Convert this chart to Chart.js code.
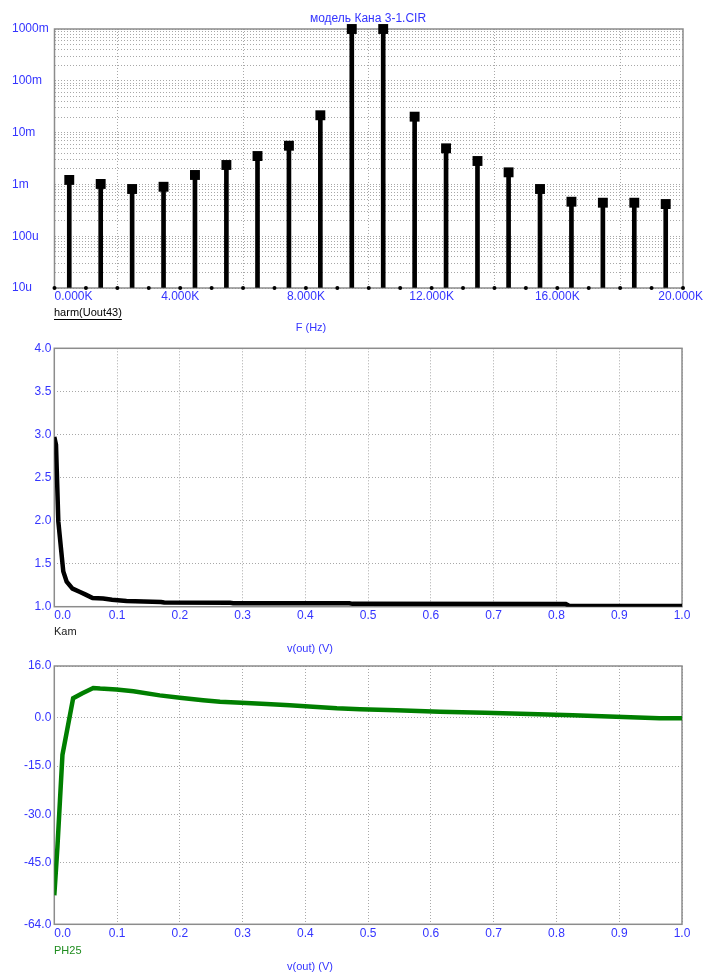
<!DOCTYPE html>
<html>
<head>
<meta charset="utf-8">
<script src="https://cdn.jsdelivr.net/npm/chart.js@4.4.1/dist/chart.umd.min.js"></script>
<style>
  body { margin: 0; background: #fff; }
  canvas { position: absolute; left: 0; }
</style>
</head>
<body>
<canvas id="harm" width="703" height="335" style="top:0px"></canvas>
<canvas id="kam" width="703" height="320" style="top:335px"></canvas>
<canvas id="ph" width="703" height="318" style="top:655px"></canvas>
<script>
// harmonic spectrum, harm(Uout43)
const harmFreqs = [470, 1470, 2470, 3470, 4470, 5470, 6460, 7460, 8460, 9460,
                   10460, 11460, 12460, 13460, 14450, 15450, 16450, 17450, 18450, 19450];
const harmAmps = [1.22e-3, 1.02e-3, 0.815e-3, 0.90e-3, 1.52e-3, 2.37e-3, 3.53e-3, 5.58e-3, 21.6e-3, 1.0,
                  1.0, 20.3e-3, 4.97e-3, 2.83e-3, 1.71e-3, 0.815e-3, 0.463e-3, 0.443e-3, 0.443e-3, 0.418e-3];
const binFreqs = [0, 1000, 2000, 3000, 4000, 5000, 6000, 7000, 8000, 9000, 10000,
                  11000, 12000, 13000, 14000, 15000, 16000, 17000, 18000, 19000, 20000];
const decadeLabels = ['10u', '100u', '1m', '10m', '100m', '1000m'];

// Kam vs v(out)
const kamV = [0, 0.0027, 0.0064, 0.0106, 0.0143, 0.0197, 0.029, 0.041, 0.050, 0.061, 0.078, 0.092,
              0.115, 0.17, 0.175, 0.28, 0.285, 0.47, 0.475, 0.815, 0.82, 1.0];
const kamY = [2.97, 2.88, 1.99, 1.68, 1.41, 1.29, 1.21, 1.17, 1.14, 1.10, 1.095, 1.08,
              1.065, 1.055, 1.048, 1.046, 1.04, 1.04, 1.033, 1.03, 1.012, 1.008];

// PH25 vs v(out)
const phV = [0, 0.005, 0.009, 0.013, 0.030, 0.044, 0.062, 0.073, 0.099, 0.126, 0.168, 0.2, 0.237, 0.264,
             0.298, 0.338, 0.375, 0.412, 0.45, 0.487, 0.545, 0.614, 0.686, 0.757, 0.826, 0.895, 0.964, 1.0];
const phY = [-55, -40, -25.7, -11.5, 6.0, 7.5, 9.2, 9.0, 8.7, 8.2, 6.9, 6.2, 5.4, 4.9,
             4.65, 4.24, 3.83, 3.41, 2.9, 2.6, 2.28, 1.86, 1.55, 1.15, 0.74, 0.31, -0.2, -0.2];
const phTicks = [16, 0, -15, -30, -45, -64];

const BLUE = '#3434ff';
const GREEN = '#007f00';
const FONT = "'Liberation Sans', Arial, sans-serif";

Chart.defaults.font.family = FONT;
Chart.defaults.font.size = 12;
Chart.defaults.color = BLUE;

const grid = () => ({ color: '#a8a8a8', lineWidth: 1, drawTicks: false });
const border = () => ({ display: false, dash: [1, 2] });

function frame() {
  return {
    id: 'frame',
    beforeDatasetsDraw(c) {
      const a = c.chartArea, ctx = c.ctx;
      ctx.save();
      ctx.strokeStyle = '#8c8c8c';
      ctx.lineWidth = 1.5;
      ctx.strokeRect(a.left, a.top, a.right - a.left, a.bottom - a.top);
      ctx.restore();
    }
  };
}

// x tick labels: first one starts at the axis, the others are centred
function xLabels(fmt) {
  return {
    id: 'xLabels',
    afterDraw(c) {
      const s = c.scales.x, ctx = c.ctx, y = c.chartArea.bottom + 9;
      ctx.save();
      ctx.font = '12px ' + FONT;
      ctx.fillStyle = BLUE;
      ctx.textBaseline = 'middle';
      ctx.textAlign = 'left';
      s.ticks.forEach((t, i) => {
        const txt = fmt(t.value);
        const px = s.getPixelForValue(t.value);
        const w = ctx.measureText(txt).width;
        let x = i === 0 ? px : px - w / 2;
        if (x + w > c.width) x = c.width - w;
        ctx.fillText(txt, x, y);
      });
      ctx.restore();
    }
  };
}

function notes(items) {
  return {
    id: 'notes',
    afterDraw(c) {
      const ctx = c.ctx;
      ctx.save();
      ctx.textBaseline = 'middle';
      items.forEach(n => {
        ctx.font = (n.size || 11) + 'px ' + FONT;
        ctx.fillStyle = n.color;
        ctx.textAlign = n.align || 'left';
        ctx.fillText(n.text, n.x, n.y);
        if (n.underline) {
          const w = ctx.measureText(n.text).width;
          ctx.fillRect(n.x, n.y + 6, w, 1);
        }
      });
      ctx.restore();
    }
  };
}

const base = {
  responsive: false,
  animation: false,
  events: [],
  plugins: { legend: { display: false }, tooltip: { enabled: false } }
};

// --- top: spectrum ---
const harmPts = harmFreqs.map((f, i) => ({ x: f, y: harmAmps[i] }));
new Chart(document.getElementById('harm'), {
  type: 'scatter',
  data: {
    datasets: [
      { type: 'bar', data: harmPts, backgroundColor: '#000', barThickness: 4, base: 1e-5 },
      { data: harmPts, pointStyle: 'rect', pointRadius: 7, backgroundColor: '#000', borderWidth: 0, clip: false },
      { data: binFreqs.map(f => ({ x: f, y: 1e-5 })), pointRadius: 2, backgroundColor: '#000', borderWidth: 0, clip: false }
    ]
  },
  options: {
    ...base,
    layout: { padding: { left: 12, right: 20, top: 29, bottom: 0 } },
    scales: {
      x: {
        type: 'linear', min: 0, max: 20000, offset: false,
        ticks: { display: false, stepSize: 4000 },
        grid: grid(), border: border(),
        afterFit(s) { s.height = 47; }
      },
      y: {
        type: 'logarithmic', min: 1e-5, max: 1,
        grid: grid(), border: border(),
        afterBuildTicks(s) {
          const t = [];
          for (let e = -5; e < 0; e++) {
            for (let m = 1; m < 10; m++) t.push({ value: m * Math.pow(10, e) });
          }
          t.push({ value: 1 });
          s.ticks = t;
        },
        ticks: {
          autoSkip: false, crossAlign: 'far', padding: 0,
          callback(v) {
            const e = Math.log10(v);
            return Math.abs(e - Math.round(e)) < 1e-6 ? decadeLabels[Math.round(e) + 5] : '';
          }
        },
        afterFit(s) { s.width = 42.5; }
      }
    }
  },
  plugins: [frame(), xLabels(v => (v / 1000).toFixed(3) + 'K'), notes([
    { text: 'модель Кана 3-1.CIR', x: 368, y: 19, color: BLUE, align: 'center', size: 12 },
    { text: 'harm(Uout43)', x: 54, y: 313, color: '#000', underline: true },
    { text: 'F (Hz)', x: 311, y: 328, color: BLUE, align: 'center' }
  ])]
});

// --- middle: Kam ---
new Chart(document.getElementById('kam'), {
  type: 'scatter',
  data: {
    datasets: [{
      data: kamV.map((v, i) => ({ x: v, y: kamY[i] })),
      showLine: true, pointRadius: 0, borderColor: '#000', borderWidth: 4.5
    }]
  },
  options: {
    ...base,
    layout: { padding: { left: 0, right: 21, top: 13.3, bottom: 0 } },
    scales: {
      x: {
        type: 'linear', min: 0, max: 1,
        ticks: { display: false, stepSize: 0.1 },
        grid: grid(), border: border(),
        afterFit(s) { s.height = 48.3; }
      },
      y: {
        min: 1, max: 4,
        ticks: { stepSize: 0.5, padding: 3, callback: v => v.toFixed(1) },
        grid: grid(), border: border(),
        afterFit(s) { s.width = 54.3; }
      }
    }
  },
  plugins: [frame(), xLabels(v => v.toFixed(1)), notes([
    { text: 'Kam', x: 54, y: 296.7, color: '#1a1a1a' },
    { text: 'v(out) (V)', x: 310, y: 314.3, color: BLUE, align: 'center' }
  ])]
});

// --- bottom: PH25 ---
new Chart(document.getElementById('ph'), {
  type: 'scatter',
  data: {
    datasets: [{
      data: phV.map((v, i) => ({ x: v, y: phY[i] })),
      showLine: true, pointRadius: 0, borderColor: GREEN, borderWidth: 4.5
    }]
  },
  options: {
    ...base,
    layout: { padding: { left: 0, right: 21, top: 11, bottom: 0 } },
    scales: {
      x: {
        type: 'linear', min: 0, max: 1,
        ticks: { display: false, stepSize: 0.1 },
        grid: grid(), border: border(),
        afterFit(s) { s.height = 48.7; }
      },
      y: {
        min: -64, max: 16,
        afterBuildTicks(s) { s.ticks = phTicks.map(v => ({ value: v })); },
        ticks: { padding: 3, callback: v => v.toFixed(1) },
        grid: grid(), border: border(),
        afterFit(s) { s.width = 54.3; }
      }
    }
  },
  plugins: [frame(), xLabels(v => v.toFixed(1)), notes([
    { text: 'PH25', x: 54, y: 295.7, color: '#1e8c1e' },
    { text: 'v(out) (V)', x: 310, y: 312.3, color: BLUE, align: 'center' }
  ])]
});
</script>
</body>
</html>
